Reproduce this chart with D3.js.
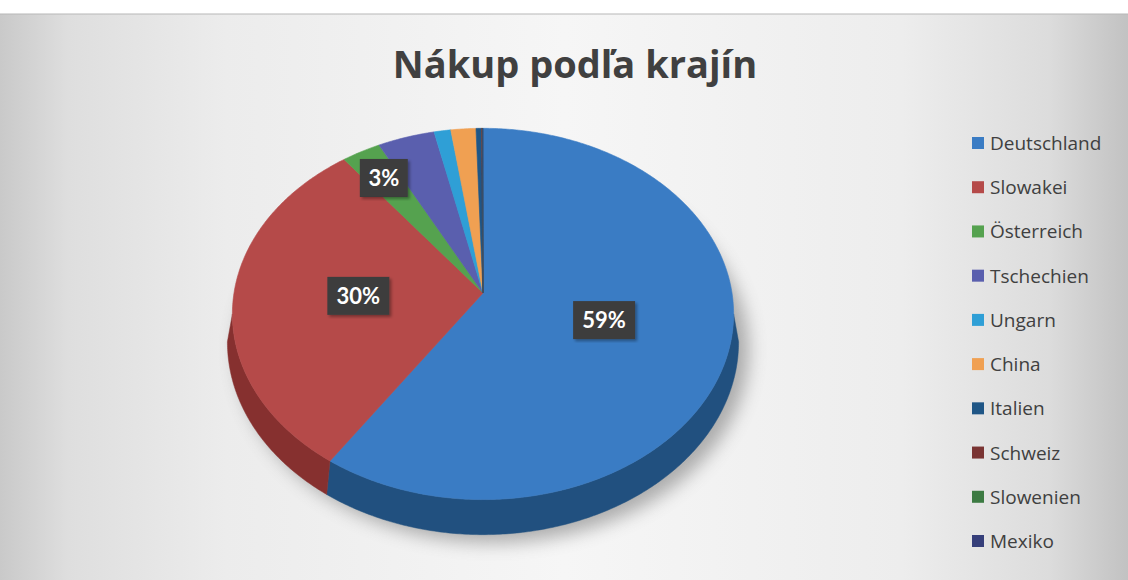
<!DOCTYPE html>
<html>
<head>
<meta charset="utf-8">
<script src="https://cdn.jsdelivr.net/npm/d3@7"></script>
<style>
  body { margin: 0; background: #fff; }
  svg { display: block; }
</style>
</head>
<body>
<div id="chart"></div>
<script>
// data
var countries = ["Deutschland", "Slowakei", "Österreich", "Tschechien", "Ungarn",
                 "China", "Italien", "Schweiz", "Slowenien", "Mexiko"];
var shares = [59.4, 30.2, 2.8, 4.1, 1.2, 1.8, 0.4, 0.05, 0.03, 0.02];
var shownLabels = ["59%", "30%", "3%", "", "", "", "", "", "", ""];
var topColors = ["#3a7cc4", "#b54a49", "#55a24f", "#5a5fae", "#2f9fd6",
                 "#f0a052", "#1f5686", "#7a3433", "#3c7a42", "#363f7a"];
var sideColors = ["#21507f", "#86302f", "#3a7336", "#3d4080", "#1e6f98",
                  "#b56f30", "#133a5c", "#551f1f", "#27522b", "#222a55"];

function init() {
    var svgWidth = 1128;
    var svgHeight = 580;

    // pie geometry (a tilted disc seen in perspective)
    var cx = 483, cy = 293;   // apex of the pie on screen
    var k = 249;              // scale
    var sinA = 0.736, cosA = 0.677; // tilt
    var persp = 6.0;          // camera distance
    var depth = 0.157;        // thickness of the disc

    function project(theta, r, h) {
        var X = r * Math.sin(theta);
        var Z = -r * Math.cos(theta);
        var den = 1 - (Z * cosA + h * sinA) / persp;
        return [cx + k * X / den, cy + k * (Z * sinA + h * cosA) / den];
    }

    var color = d3.scaleOrdinal().domain(countries).range(topColors);
    var sideColor = d3.scaleOrdinal().domain(countries).range(sideColors);

    var pie = d3.pie().sort(null).value(d => d.value);
    var data = countries.map((c, i) => ({ name: c, value: shares[i], label: shownLabels[i] }));
    var arcs = pie(data);

    var svg = d3.select("#chart").append("svg")
        .attr("width", svgWidth)
        .attr("height", svgHeight);

    var defs = svg.append("defs");
    var bg = defs.append("linearGradient").attr("id", "bg");
    [[0, "#c9c9c9"], [0.06, "#dedede"], [0.2, "#ececec"], [0.5, "#f6f6f6"],
     [0.8, "#ededed"], [0.93, "#dcdcdc"], [1, "#c2c2c2"]].forEach(s => {
        bg.append("stop").attr("offset", s[0]).attr("stop-color", s[1]);
    });
    defs.append("filter").attr("id", "blur")
        .attr("x", "-20%").attr("y", "-20%").attr("width", "140%").attr("height", "140%")
        .append("feGaussianBlur").attr("stdDeviation", 9);
    var lblShadow = defs.append("filter").attr("id", "lblShadow");
    lblShadow.append("feDropShadow").attr("dx", 2).attr("dy", 2)
        .attr("stdDeviation", 1.5).attr("flood-color", "#000").attr("flood-opacity", 0.35);

    // scanned page background
    svg.append("rect").attr("x", 0).attr("y", 14)
        .attr("width", svgWidth).attr("height", svgHeight - 14)
        .attr("fill", "url(#bg)");
    svg.append("line").attr("x1", 0).attr("x2", svgWidth).attr("y1", 14).attr("y2", 14)
        .attr("stroke", "#b8b8b8").attr("stroke-width", 1.2);

    // title
    svg.append("text")
        .attr("x", 575)
        .attr("y", 78)
        .attr("text-anchor", "middle")
        .attr("font-family", "'Open Sans', sans-serif")
        .attr("font-size", "38px")
        .attr("font-weight", "bold")
        .attr("fill", "#404040")
        .text("Nákup podľa krajín");

    function arcPoints(a0, a1, r, h) {
        var n = Math.max(2, Math.ceil(Math.abs(a1 - a0) / 0.01));
        var pts = [];
        for (var i = 0; i <= n; i++) pts.push(project(a0 + (a1 - a0) * i / n, r, h));
        return pts;
    }

    // soft shadow under the pie
    var shadowPts = arcPoints(0, 2 * Math.PI, 1, depth).map(p => [p[0] + 10, p[1] + 8]);
    svg.append("path")
        .attr("d", d3.line()(shadowPts) + "Z")
        .attr("fill", "#555")
        .attr("opacity", 0.45)
        .attr("filter", "url(#blur)");

    // visible side wall of the disc
    var e = cosA / persp;
    var thL = Math.acos(-e), thR = 2 * Math.PI - Math.acos(-e);
    var walls = svg.append("g").attr("class", "walls");
    arcs.forEach(a => {
        var s = Math.max(a.startAngle, thL), t = Math.min(a.endAngle, thR);
        if (t <= s) return;
        var top = arcPoints(s, t, 1, 0);
        var bottom = arcPoints(t, s, 1, depth);
        walls.append("path")
            .attr("d", d3.line()(top.concat(bottom)) + "Z")
            .attr("fill", sideColor(a.data.name))
            .attr("stroke", sideColor(a.data.name))
            .attr("stroke-width", 0.5);
    });

    // top faces
    svg.append("g").attr("class", "slices")
        .selectAll("path")
        .data(arcs)
        .enter()
        .append("path")
        .attr("d", a => d3.line()([[cx, cy]].concat(arcPoints(a.startAngle, a.endAngle, 1, 0))) + "Z")
        .attr("fill", a => color(a.data.name))
        .attr("stroke", a => color(a.data.name))
        .attr("stroke-width", 0.6);

    // data labels
    var labels = svg.append("g").attr("class", "labels")
        .selectAll("g")
        .data(arcs.filter(a => a.data.label))
        .enter()
        .append("g")
        .attr("transform", a => {
            var mid = (a.startAngle + a.endAngle) / 2;
            var r = (a.endAngle - a.startAngle) > 0.5 ? 0.5 : 0.8;
            var p = project(mid, r, 0);
            return "translate(" + p[0] + "," + p[1] + ")";
        });

    labels.append("rect")
        .attr("x", a => a.data.label.length > 2 ? -31 : -24)
        .attr("y", -19)
        .attr("width", a => a.data.label.length > 2 ? 62 : 48)
        .attr("height", 38)
        .attr("fill", "#3d3d3d")
        .attr("filter", "url(#lblShadow)");

    labels.append("text")
        .attr("text-anchor", "middle")
        .attr("y", 8)
        .attr("font-family", "Lato, 'Open Sans', sans-serif")
        .attr("font-size", "22px")
        .attr("font-weight", "bold")
        .attr("fill", "#fff")
        .text(a => a.data.label);

    // legend
    var legendY = d3.scalePoint().domain(countries).range([143, 541]);
    var legend = svg.selectAll(".legend")
        .data(countries)
        .enter()
        .append("g")
        .attr("class", "legend")
        .attr("transform", d => "translate(972," + legendY(d) + ")");

    legend.append("rect")
        .attr("x", 0)
        .attr("y", -6)
        .attr("width", 12)
        .attr("height", 12)
        .attr("fill", d => color(d));

    legend.append("text")
        .attr("x", 18)
        .attr("y", 7)
        .attr("font-family", "'Open Sans', sans-serif")
        .attr("font-size", "19px")
        .attr("fill", "#404040")
        .text(d => d);
}
window.onload = init;
</script>
</body>
</html>
